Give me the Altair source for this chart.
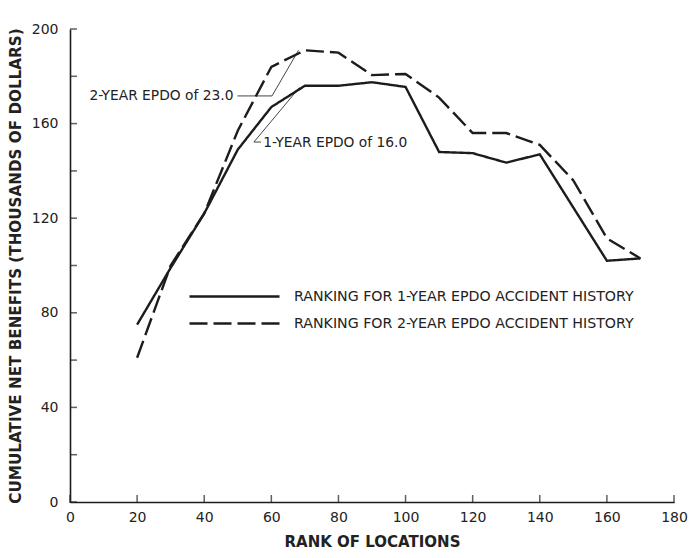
import altair as alt
import pandas as pd

# ---- data ----
rank = [20, 30, 40, 50, 60, 70, 80, 90, 100, 110, 120, 130, 140, 150, 160, 170]
one_year = [75, 99, 122, 149, 167, 176, 176, 177.5, 175.5, 148, 147.5, 143.5, 147, 124.5, 102, 103]
two_year = [61, 100, 122, 157, 184, 191, 190, 180.5, 181, 171, 156, 156, 151, 136, 111.5, 103]
series_names = ["RANKING FOR 1-YEAR EPDO ACCIDENT HISTORY",
                "RANKING FOR 2-YEAR EPDO ACCIDENT HISTORY"]

x_ticks = [0, 20, 40, 60, 80, 100, 120, 140, 160, 180]
y_ticks = [0, 20, 40, 60, 80, 100, 120, 140, 160, 180, 200]
y_labels = [0, 40, 80, 120, 160, 200]

ann_text = ["2-YEAR EPDO of 23.0", "1-YEAR EPDO of 16.0"]
ann_x = [49.3, 57.6]
ann_y = [171.7, 152.0]

lead2_x = [49.9, 60.2, 68.1]
lead2_y = [171.7, 171.7, 191.0]
lead1_x = [56.9, 54.8, 68.4]
lead1_y = [152.2, 152.2, 175.3]

# ---- tables ----
df = pd.DataFrame({
    "rank": rank + rank,
    "value": one_year + two_year,
    "series": [series_names[0]] * len(rank) + [series_names[1]] * len(rank),
})
ytick_df = pd.DataFrame({"value": y_ticks})
xtick_df = pd.DataFrame({"rank": x_ticks})
ann2_df = pd.DataFrame({"rank": [ann_x[0]], "value": [ann_y[0]], "t": [ann_text[0]]})
ann1_df = pd.DataFrame({"rank": [ann_x[1]], "value": [ann_y[1]], "t": [ann_text[1]]})
lead_df = pd.DataFrame({
    "rank": lead2_x + lead1_x,
    "value": lead2_y + lead1_y,
    "g": ["a"] * 3 + ["b"] * 3,
    "o": [0, 1, 2, 0, 1, 2],
})

FONT = "DejaVu Sans"
INK = "#1c1c1c"

xs = alt.Scale(domain=[0, 180], nice=False, zero=False)
ys = alt.Scale(domain=[0, 200], nice=False, zero=False)

x_axis = alt.Axis(values=x_ticks, ticks=False, grid=False, domainColor=INK, domainWidth=1.6,
                  labelFont=FONT, labelFontSize=14, labelColor="#222", labelPadding=8,
                  labelFlush=False, title="RANK OF LOCATIONS", titleFont=FONT, titleFontSize=15,
                  titleFontWeight="bold", titleColor="#222", titlePadding=10)
y_axis = alt.Axis(values=y_labels, ticks=False, grid=False, domainColor=INK, domainWidth=1.6,
                  labelFont=FONT, labelFontSize=14, labelColor="#222", labelPadding=12,
                  labelFlush=False,
                  title="CUMULATIVE NET BENEFITS (THOUSANDS OF DOLLARS)", titleFont=FONT,
                  titleFontSize=15.2, titleFontWeight="bold", titleColor="#222", titlePadding=8)

lines = alt.Chart(df).mark_line(color=INK, strokeWidth=2.4).encode(
    x=alt.X("rank:Q", scale=xs, axis=x_axis),
    y=alt.Y("value:Q", scale=ys, axis=y_axis),
    strokeDash=alt.StrokeDash(
        "series:N",
        scale=alt.Scale(domain=series_names, range=[[1, 0], [18, 6]]),
        legend=alt.Legend(orient="none", legendX=153, legendY=256, title=None,
                          symbolType="M-4.5,0H4.5", symbolSize=400, symbolStrokeWidth=2.4,
                          symbolStrokeColor=INK, labelFont=FONT, labelFontSize=14.2,
                          labelColor="#222", labelOffset=48, rowPadding=8, padding=0,
                          labelLimit=0),
    ),
)

yticks = alt.Chart(ytick_df).mark_tick(orient="horizontal", size=7, thickness=1.5,
                                       xOffset=3.5, color=INK).encode(
    x=alt.datum(0), y=alt.Y("value:Q", scale=ys))
xticks = alt.Chart(xtick_df).mark_tick(orient="vertical", size=8, thickness=1.5,
                                       yOffset=-3, color=INK).encode(
    x=alt.X("rank:Q", scale=xs), y=alt.datum(0))

leaders = alt.Chart(lead_df).mark_line(color="#444", strokeWidth=1).encode(
    x=alt.X("rank:Q", scale=xs), y=alt.Y("value:Q", scale=ys), detail="g:N", order="o:Q")

ann2 = alt.Chart(ann2_df).mark_text(align="right", baseline="middle", font=FONT, fontSize=13.8,
                                    color="#222", dx=-2).encode(
    x=alt.X("rank:Q", scale=xs), y=alt.Y("value:Q", scale=ys), text="t:N")
ann1 = alt.Chart(ann1_df).mark_text(align="left", baseline="middle", font=FONT, fontSize=13.8,
                                    color="#222").encode(
    x=alt.X("rank:Q", scale=xs), y=alt.Y("value:Q", scale=ys), text="t:N")

chart = alt.layer(leaders, lines, yticks, xticks, ann2, ann1).properties(
    width=604, height=473,
    padding={"left": 62, "top": 21, "right": 15, "bottom": 48},
    autosize="none",
    background="white",
).configure_view(stroke=None)

chart.save("out.html", embed_options={"renderer": "svg", "actions": False})
